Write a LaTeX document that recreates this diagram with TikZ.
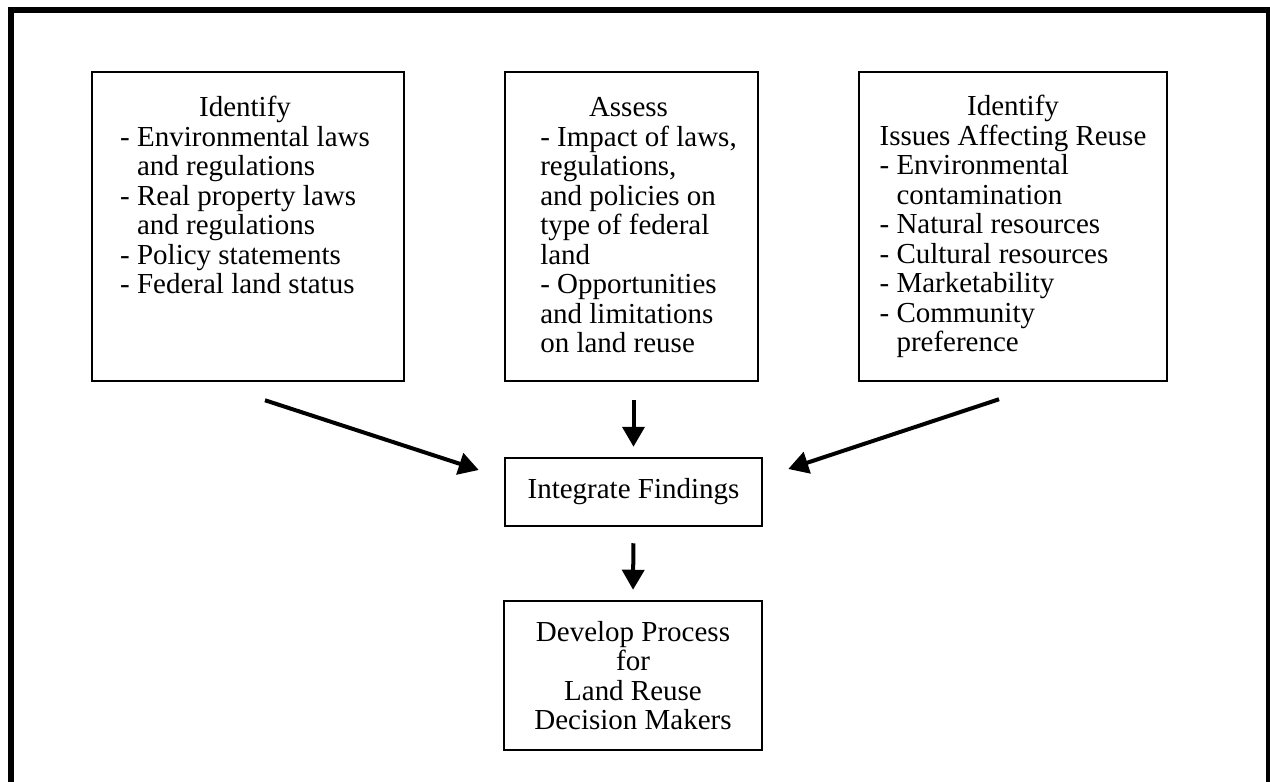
\documentclass[tikz,border=0pt]{standalone}
\usepackage{fontspec}
\setmainfont{Liberation Serif}
\usetikzlibrary{arrows.meta,calc}

\begin{document}
\begin{tikzpicture}[x=0.2mm,y=-0.2mm,
  box/.style={draw, line width=0.5mm, inner sep=0pt},
  txt/.style={inner sep=0pt, anchor=north, font=\fontsize{16.5}{16.8}\selectfont},
  arr/.style={line width=0.8mm, -{Triangle[length=4mm,width=4.4mm]}}]
\useasboundingbox (0,0) rectangle (1270,782);
\draw[line width=1.2mm] (11,782) -- (11,10) -- (1268.5,10) -- (1268.5,782);

\node[box, minimum width=62.4mm, minimum height=61.8mm] (laws) at (248,226.5){};
\node[txt] (lawstxt) at ($(laws.north)+(-3,25)$){\begin{tabular}{@{}l@{}}
\multicolumn{1}{c}{Identify}\\
- Environmental laws\\
\phantom{- }and regulations\\
- Real property laws\\
\phantom{- }and regulations\\
- Policy statements\\
- Federal land status
\end{tabular}};

\node[box, minimum width=50.6mm, minimum height=61.8mm] (assess) at (631.5,226.5){};
\node[txt] (assesstxt) at ($(assess.north)+(7,25)$){\begin{tabular}{@{}l@{}}
\multicolumn{1}{c}{Assess\hspace*{4mm}}\\
- Impact of laws,\\
regulations,\\
and policies on\\
type of federal\\
land\\
- Opportunities\\
and limitations\\
on land reuse
\end{tabular}};

\node[box, minimum width=61.6mm, minimum height=61.8mm] (issues) at (1013,226.5){};
\node[txt] (issuestxt) at ($(issues.north)+(0,24)$){\begin{tabular}{@{}l@{}}
\multicolumn{1}{c}{Identify}\\
Issues Affecting Reuse\\
- Environmental\\
\phantom{- }contamination\\
- Natural resources\\
- Cultural resources\\
- Marketability\\
- Community\\
\phantom{- }preference
\end{tabular}};

\node[box, txt, anchor=center, minimum width=51.4mm, minimum height=13.6mm] (integ) at (633.5,492){Integrate Findings};
\node[box, txt, anchor=center, align=center, minimum width=51.6mm, minimum height=29.8mm] (devel) at (633,675.5){Develop Process\\for\\Land Reuse\\Decision Makers};

\draw[arr] ($(laws.south)+(17,18)$) -- ($(integ.west)+(-25,-22)$);
\draw[arr, shorten <=3.6mm, shorten >=2mm] (integ.north |- assess.south) -- (integ.north);
\draw[arr] ($(issues.south)+(-14,17)$) -- ($(integ.east)+(25,-23)$);
\draw[arr, shorten <=3.2mm, shorten >=2mm] (integ.south) -- (devel.north);

\end{tikzpicture}
\end{document}
